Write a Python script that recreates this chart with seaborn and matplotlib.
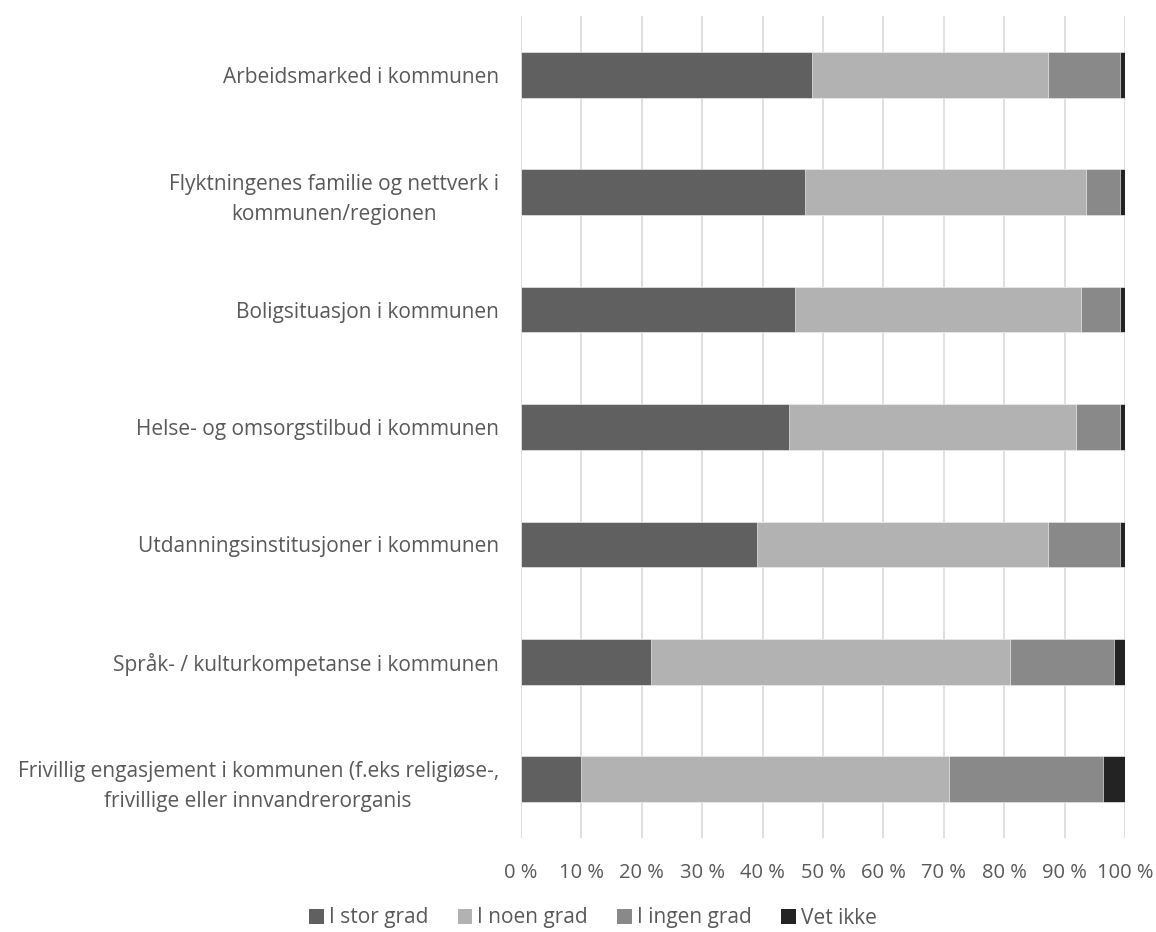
import numpy as np
import pandas as pd
import seaborn as sns
import matplotlib.pyplot as plt
from matplotlib.patches import Patch

categories = [
    "Arbeidsmarked i kommunen",
    "Flyktningenes familie og nettverk i\nkommunen/regionen",
    "Boligsituasjon i kommunen",
    "Helse- og omsorgstilbud i kommunen",
    "Utdanningsinstitusjoner i kommunen",
    "Språk- / kulturkompetanse i kommunen",
    "Frivillig engasjement i kommunen (f.eks religiøse-,\nfrivillige eller innvandrerorganis",
]
series = ["I stor grad", "I noen grad", "I ingen grad", "Vet ikke"]
stor = [48.2, 47.1, 45.3, 44.4, 39.0, 21.6, 9.9]
noen = [39.1, 46.5, 47.4, 47.5, 48.3, 59.3, 60.9]
ingen = [11.9, 5.6, 6.5, 7.3, 11.9, 17.3, 25.6]
vet = [0.8, 0.8, 0.8, 0.8, 0.8, 1.8, 3.6]
colors = ["#606060", "#b2b2b2", "#898989", "#232323"]

sns.set_theme(style="white")
plt.rcParams["font.family"] = ["Open Sans", "DejaVu Sans"]

df = pd.DataFrame({"kategori": categories, "stor": stor, "noen": noen,
                   "ingen": ingen, "vet": vet})
cum = np.cumsum(df[["stor", "noen", "ingen", "vet"]].values, axis=1)

fig = plt.figure(figsize=(11.56, 9.32), dpi=100)
ax = fig.add_axes([521 / 1156, 1 - 838 / 932, 604 / 1156, 822 / 932])

# stacked bars: draw the largest cumulative first
for i in range(3, -1, -1):
    sns.barplot(x=cum[:, i], y=df["kategori"], orient="h", color=colors[i],
                width=0.39, saturation=1, ax=ax, edgecolor="white", linewidth=0.4)

ax.set_xlim(0, 100)
ax.set_ylim(6.5, -0.5)
ax.set_xticks(np.arange(0, 101, 10))
ax.set_xticklabels([f"{v} %" for v in range(0, 101, 10)])
ax.xaxis.grid(True, color="#d9d9d9", linewidth=1.2)
ax.set_axisbelow(True)
for s in ax.spines.values():
    s.set_visible(False)
ax.set_xlabel("")
ax.set_ylabel("")
ax.tick_params(axis="x", length=0, pad=18, labelsize=14.5, labelcolor="#595959")
ax.tick_params(axis="y", length=0, pad=16, labelsize=15, labelcolor="#595959")
for lab in ax.get_yticklabels():
    lab.set_multialignment("center")
    lab.set_linespacing(1.6)

handles = [Patch(facecolor=c, edgecolor="none") for c in colors]
fig.legend(handles, series, loc="center", bbox_to_anchor=(593 / 1156, 1 - 918 / 932),
           ncol=4, frameon=False, fontsize=15, handlelength=0.7, handleheight=0.7,
           handletextpad=0.25, columnspacing=1.4, labelcolor="#595959")

fig.savefig("out.png", dpi=100)
